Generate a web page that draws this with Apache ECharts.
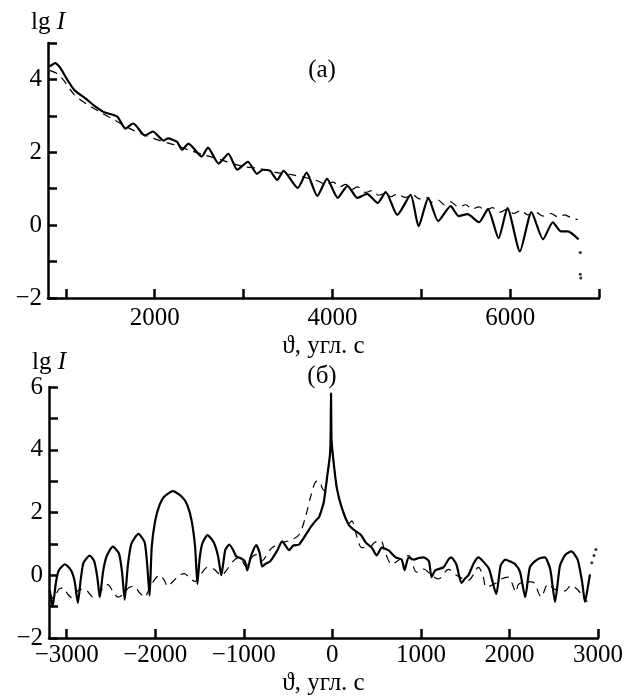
<!DOCTYPE html>
<html>
<head>
<meta charset="utf-8">
<script src="https://cdn.jsdelivr.net/npm/echarts@6/dist/echarts.min.js"></script>
<style>
html,body{margin:0;padding:0;background:#fff;}
#c{width:626px;height:697px;}
</style>
</head>
<body>
<div id="c"></div>
<script>
// ---------- Panel (a) ----------
const topSolidX = [820, 880, 940, 1020, 1100, 1220, 1330, 1440, 1580, 1670, 1760, 1890, 1980, 2100, 2150, 2250, 2310, 2380, 2530, 2600, 2720, 2830, 2930, 3050, 3150, 3220, 3300, 3380, 3450, 3610, 3710, 3830, 3940, 4060, 4170, 4280, 4390, 4510, 4600, 4730, 4880, 4970, 5080, 5190, 5330, 5420, 5520, 5650, 5750, 5870, 5970, 6110, 6240, 6370, 6480, 6570, 6650, 6770];
const topSolidY = [4.36, 4.45, 4.31, 3.98, 3.70, 3.48, 3.26, 3.09, 2.98, 2.65, 2.79, 2.46, 2.57, 2.32, 2.38, 2.29, 2.07, 2.24, 1.88, 2.13, 1.69, 1.96, 1.52, 1.74, 1.41, 1.52, 1.49, 1.24, 1.49, 1.02, 1.44, 0.80, 1.27, 0.75, 1.08, 0.75, 0.86, 0.61, 0.91, 0.28, 0.83, -0.03, 0.75, 0.11, 0.52, 0.25, 0.30, 0.08, 0.44, -0.36, 0.47, -0.72, 0.36, -0.39, 0.08, -0.17, -0.17, -0.39];
const topDashX = [820, 910, 1000, 1100, 1250, 1390, 1550, 1720, 1890, 2060, 2230, 2400, 2570, 2740, 2890, 3020, 3190, 3360, 3550, 3700, 3830, 3920, 4010, 4080, 4150, 4220, 4280, 4370, 4450, 4520, 4600, 4660, 4730, 4820, 4900, 4980, 5050, 5120, 5190, 5260, 5330, 5420, 5500, 5570, 5650, 5720, 5800, 5890, 5970, 6040, 6120, 6200, 6290, 6370, 6460, 6540, 6610, 6690, 6760];
const topDashY = [4.25, 4.15, 3.90, 3.57, 3.30, 3.10, 2.88, 2.65, 2.47, 2.32, 2.20, 2.05, 1.92, 1.80, 1.68, 1.60, 1.55, 1.45, 1.38, 1.30, 1.22, 1.12, 1.18, 1.05, 1.12, 0.98, 1.05, 0.90, 0.95, 0.82, 0.88, 0.78, 0.86, 0.76, 0.84, 0.72, 0.77, 0.63, 0.69, 0.56, 0.64, 0.50, 0.56, 0.44, 0.50, 0.40, 0.48, 0.36, 0.44, 0.32, 0.40, 0.28, 0.35, 0.25, 0.32, 0.22, 0.28, 0.20, 0.15];
const topDotsX = [6790, 6790, 6795];
const topDotsY = [-0.75, -1.35, -1.45];
const topXTicks = [1000, 2000, 3000, 4000, 5000, 6000, 7000];
const topXLabels = [2000, 4000, 6000];

// ---------- Panel (б) ----------
const botSolidX = [-3190, -3160, -3120, -3090, -3020, -2950, -2910, -2874, -2840, -2810, -2740, -2690, -2655, -2626, -2590, -2550, -2480, -2410, -2375, -2345, -2310, -2270, -2190, -2120, -2090, -2064, -2040, -2000, -1950, -1900, -1800, -1700, -1640, -1590, -1550, -1524, -1500, -1470, -1410, -1340, -1290, -1254, -1210, -1164, -1120, -1085, -1040, -990, -961, -920, -860, -820, -793, -760, -700, -620, -568, -530, -489, -440, -376, -298, -241, -185, -151, -120, -95, -61, -28, -20, -15, -10, -5, 18, 51, 108, 186, 243, 321, 378, 445, 501, 558, 636, 715, 783, 816, 861, 920, 975, 1030, 1090, 1120, 1160, 1200, 1255, 1310, 1340, 1400, 1458, 1500, 1536, 1600, 1650, 1700, 1770, 1851, 1900, 1953, 2000, 2065, 2120, 2178, 2230, 2290, 2350, 2400, 2460, 2515, 2570, 2630, 2700, 2770, 2820, 2853, 2890, 2909];
const botSolidY = [-0.5, -1.0, -0.2, 0.15, 0.35, 0.15, -0.2, -0.88, -0.1, 0.4, 0.63, 0.45, -0.05, -0.7, 0.1, 0.6, 0.91, 0.7, 0.1, -0.78, 0.3, 1.0, 1.32, 1.05, 0.3, -0.65, 0.9, 1.75, 2.25, 2.5, 2.68, 2.5, 2.25, 1.75, 0.9, -0.28, 0.5, 1.0, 1.28, 1.05, 0.6, 0.0, 0.8, 0.98, 0.8, 0.6, 0.55, 0.45, 0.16, 0.6, 0.96, 0.7, 0.28, 0.35, 0.45, 0.8, 1.08, 0.95, 0.8, 0.95, 0.98, 1.3, 1.55, 1.75, 1.85, 2.1, 2.36, 3.09, 3.81, 4.35, 5.8, 4.35, 4.13, 3.5, 2.77, 2.14, 1.6, 1.45, 1.29, 1.04, 0.88, 0.63, 0.88, 0.79, 0.57, 0.5, 0.16, 0.57, 0.5, 0.55, 0.57, 0.45, -0.06, 0.15, 0.2, 0.25, 0.5, 0.57, 0.35, -0.25, -0.1, 0.0, 0.4, 0.57, 0.45, 0.2, -0.6, 0.3, 0.5, 0.45, 0.35, 0.1, -0.7, 0.25, 0.45, 0.55, 0.57, 0.2, -0.85, 0.3, 0.65, 0.76, 0.5, -0.2, -0.85, -0.3, 0.03];
const botDashX = [-3190, -3150, -3090, -3040, -2990, -2940, -2880, -2820, -2770, -2700, -2640, -2590, -2536, -2480, -2420, -2360, -2300, -2240, -2180, -2120, -2070, -2010, -1951, -1900, -1861, -1800, -1730, -1670, -1610, -1550, -1480, -1411, -1340, -1254, -1198, -1120, -1051, -980, -900, -860, -793, -720, -680, -568, -489, -376, -298, -241, -185, -150, -110, -80, -61, -28, -20, -15, -10, -5, 18, 51, 108, 186, 220, 280, 333, 420, 480, 546, 600, 670, 760, 861, 951, 1030, 1120, 1199, 1311, 1400, 1536, 1649, 1700, 1739, 1851, 1908, 1986, 2076, 2099, 2180, 2268, 2358, 2436, 2515, 2628, 2695, 2774, 2830, 2880];
const botDashY = [-0.55, -0.75, -0.45, -0.4, -0.6, -0.72, -0.5, -0.45, -0.5, -0.7, -0.65, -0.4, -0.3, -0.5, -0.7, -0.6, -0.4, -0.35, -0.55, -0.7, -0.45, -0.15, 0.0, -0.15, -0.35, -0.2, 0.0, 0.05, -0.1, -0.2, 0.05, 0.25, 0.2, 0.0, 0.15, 0.45, 0.57, 0.3, 0.6, 0.66, 0.47, 0.75, 0.88, 1.05, 1.1, 1.29, 1.92, 2.55, 2.99, 3.0, 2.75, 2.7, 3.09, 3.81, 4.35, 5.8, 4.35, 4.13, 3.5, 2.77, 2.14, 1.65, 1.73, 1.2, 0.88, 0.9, 1.05, 1.1, 0.7, 0.35, 0.5, 0.63, 0.1, 0.2, 0.0, -0.12, 0.19, 0.0, -0.16, 0.25, 0.0, -0.38, -0.25, -0.12, -0.06, -0.54, -0.3, -0.2, -0.22, -0.69, -0.28, -0.45, -0.5, -0.32, -0.47, -0.69, -0.85];
const botDotsX = [2930, 2955, 2976];
const botDotsY = [0.4, 0.63, 0.82];
const botXTicks = [-3000, -2000, -1000, 0, 1000, 2000, 3000];

const xName = 'ϑ, угл. с';
const yName = 'lg {i|I}';
const panelA = '(a)';
const panelB = '(б)';

function pairs(xs, ys) { return xs.map((x, i) => [x, ys[i]]); }
function fmt(v) { return v < 0 ? '\u2212' + Math.abs(v) : String(v); }

const FONT = "'Liberation Serif', 'Times New Roman', serif";
const FS = 25;
const axisLine = { show: true, onZero: false, lineStyle: { color: '#000', width: 2.5 } };
const axisTick = { show: true, inside: true, length: 9, lineStyle: { color: '#000', width: 2.5 } };
const labelBase = { color: '#000', fontFamily: FONT, fontSize: FS };
const nameStyle = { color: '#000', fontFamily: FONT, fontSize: FS, rich: { i: { fontStyle: 'italic', fontFamily: FONT, fontSize: FS, color: '#000' } } };

const chart = echarts.init(document.getElementById('c'), null, { renderer: 'canvas' });
chart.setOption({
  backgroundColor: '#fff',
  animation: false,
  grid: [
    { left: 48, right: 27, top: 43, height: 255 },
    { left: 49, right: 26, top: 387, height: 254 }
  ],
  xAxis: [
    {
      gridIndex: 0, type: 'value', min: 800, max: 7000,
      axisLine, splitLine: { show: false },
      axisTick: Object.assign({}, axisTick, { customValues: topXTicks }),
      axisLabel: Object.assign({}, labelBase, { customValues: topXLabels, margin: 8, formatter: fmt }),
      name: xName, nameLocation: 'middle', nameGap: 36, nameTextStyle: nameStyle
    },
    {
      gridIndex: 1, type: 'value', min: -3200, max: 3000,
      axisLine, splitLine: { show: false },
      axisTick: Object.assign({}, axisTick, { customValues: botXTicks }),
      axisLabel: Object.assign({}, labelBase, { customValues: botXTicks, margin: 5, formatter: fmt }),
      name: xName, nameLocation: 'middle', nameGap: 33, nameTextStyle: nameStyle
    }
  ],
  yAxis: [
    {
      gridIndex: 0, type: 'value', min: -2, max: 5, interval: 1,
      axisLine, axisTick, splitLine: { show: false },
      axisLabel: Object.assign({}, labelBase, { margin: 6, formatter: v => (v % 2 === 0 ? fmt(v) : '') }),
      name: yName, nameLocation: 'end', nameGap: 8, nameTextStyle: nameStyle
    },
    {
      gridIndex: 1, type: 'value', min: -2, max: 6, interval: 1,
      axisLine, axisTick, splitLine: { show: false },
      axisLabel: Object.assign({}, labelBase, { margin: 6, formatter: v => (v % 2 === 0 ? fmt(v) : '') }),
      name: yName, nameLocation: 'end', nameGap: 12, nameTextStyle: nameStyle
    }
  ],
  graphic: [
    { type: 'text', x: 322, y: 70, style: { text: panelA, font: FS + 'px ' + FONT, fill: '#000', textAlign: 'center', textVerticalAlign: 'middle' } },
    { type: 'text', x: 322, y: 376, style: { text: panelB, font: FS + 'px ' + FONT, fill: '#000', textAlign: 'center', textVerticalAlign: 'middle' } }
  ],
  series: [
    { type: 'line', xAxisIndex: 0, yAxisIndex: 0, data: pairs(topDashX, topDashY), showSymbol: false, smooth: 0.3,
      lineStyle: { color: '#000', width: 1.2, type: [8, 6] } },
    { type: 'line', xAxisIndex: 0, yAxisIndex: 0, data: pairs(topSolidX, topSolidY), showSymbol: false, smooth: 0.2,
      lineStyle: { color: '#000', width: 2.2 } },
    { type: 'scatter', xAxisIndex: 0, yAxisIndex: 0, data: pairs(topDotsX, topDotsY), symbolSize: 3,
      itemStyle: { color: '#000' } },
    { type: 'line', xAxisIndex: 1, yAxisIndex: 1, data: pairs(botDashX, botDashY), showSymbol: false, smooth: 0.3,
      lineStyle: { color: '#000', width: 1.2, type: [8, 6] } },
    { type: 'line', xAxisIndex: 1, yAxisIndex: 1, data: pairs(botSolidX, botSolidY), showSymbol: false, smooth: 0.2,
      lineStyle: { color: '#000', width: 2.2 } },
    { type: 'scatter', xAxisIndex: 1, yAxisIndex: 1, data: pairs(botDotsX, botDotsY), symbolSize: 3,
      itemStyle: { color: '#000' } }
  ]
});
</script>
</body>
</html>
